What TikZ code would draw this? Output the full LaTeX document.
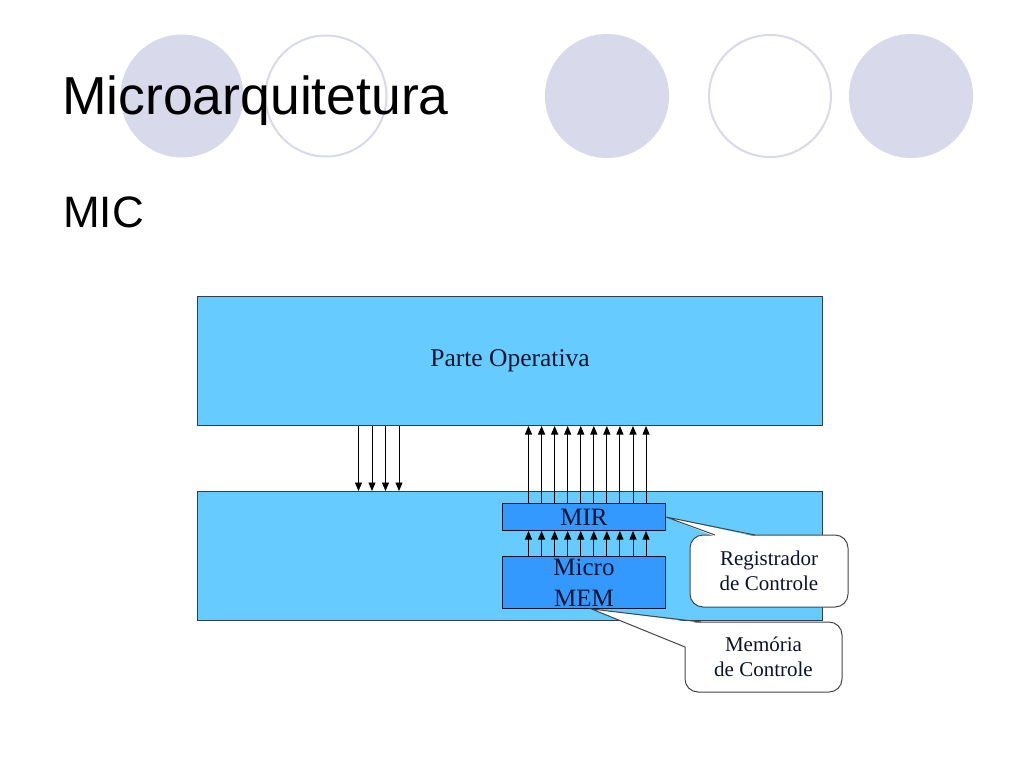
\documentclass[tikz,border=0pt]{standalone}
\usepackage{fontspec}
\setmainfont{Liberation Serif}
\newfontfamily\sansfont{Liberation Sans}
\usetikzlibrary{arrows.meta}
\definecolor{lav}{RGB}{217,217,236}
\definecolor{lightblue}{RGB}{102,204,255}
\definecolor{midblue}{RGB}{51,153,255}
\definecolor{ink}{RGB}{12,18,45}
\definecolor{boxline}{RGB}{50,60,80}
\definecolor{cgray}{RGB}{70,70,70}
\tikzset{
  bigbox/.style={draw=boxline, line width=1pt, fill=lightblue, minimum width=625pt, minimum height=129pt, inner sep=0pt, anchor=north west, text=ink, font=\fontsize{25.5}{30}\selectfont},
  regbox/.style={draw=ink, line width=1pt, fill=midblue, minimum width=163pt, inner sep=0pt, anchor=north west, text=ink, align=center, font=\fontsize{25}{31}\selectfont},
  arr/.style={-{Triangle[length=8.5pt,width=7pt]}, line width=0.9pt, draw=black},
  cbox/.style={draw=cgray, line width=1pt, fill=white, rounded corners=13pt, inner sep=0pt, align=center, text=ink, font=\fontsize{21}{25}\selectfont},
  cline/.style={draw=cgray, line width=1pt},
  titletext/.style={anchor=base west, inner sep=0pt, text=black}
}
\begin{document}
\begin{tikzpicture}[x=1pt,y=-1pt]
\useasboundingbox[fill=white] (0,0) rectangle (1024,768);
% decorative circles
\fill[lav] (182,96) circle[radius=61.5pt];
\draw[lav, line width=2pt] (326,96) circle[radius=60.5pt];
\fill[lav] (607,96) circle[radius=62pt];
\draw[lav, line width=2pt] (770,96) circle[radius=61pt];
\fill[lav] (911,96) circle[radius=62pt];
% titles
\node[titletext, font=\sansfont\fontsize{53.5}{60}\selectfont] (title) at (62,114) {Microarquitetura};
\node[titletext, font=\sansfont\fontsize{44}{50}\selectfont] (mic) at (63,227) {MIC};
% main boxes
\node[bigbox] (po) at (197,296) {Parte Operativa};
\node[bigbox] (pc) at (197,491) {};
\node[regbox, minimum height=27pt] (mir) at (502,503) {MIR};
\node[regbox, minimum height=52pt] (mem) at (502,556) {Micro\\MEM};
% down arrows
\foreach \x in {358.5,372,385.5,399}
  \draw[arr] (\x,0 |- po.south) -- (\x,0 |- pc.north);
% up arrows
\foreach \i in {0,...,9}{
  \pgfmathsetmacro{\x}{528.5+13.06*\i}
  \draw[arr] (\x,0 |- mir.north) -- (\x,0 |- po.south);
  \draw[arr] (\x,0 |- mem.north) -- (\x,0 |- mir.south);
}
% callout 1
\node[cbox, minimum width=158pt, minimum height=72pt] (reg) at (769,571) {Registrador\\de Controle};
\coordinate (rb1) at (715,535);
\coordinate (rb2) at (755,535);
\fill[white] (715,536.5) -- (mir.east) -- (755,536.5) -- cycle;
\draw[cline] (rb1) -- (mir.east) -- (rb2);
% callout 2
\node[cbox, minimum width=157pt, minimum height=70pt] (memc) at (763.5,657) {Mem\'oria\\de Controle};
\coordinate (mb1) at (701,622);
\coordinate (mb2) at (685,647);
\fill[white] (mem.-74) -- (701,623.2) -- (701,631) -- (686.5,647) -- cycle;
\draw[cline] (mb1) -- (mem.-74) -- (mb2);
\end{tikzpicture}
\end{document}
